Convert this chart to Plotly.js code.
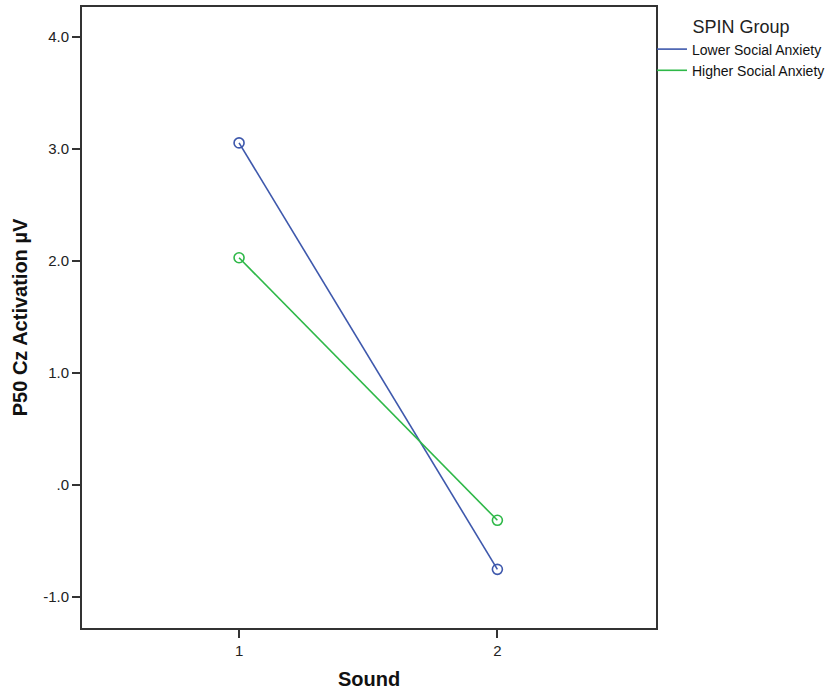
<!DOCTYPE html>
<html>
<head>
<meta charset="utf-8">
<script src="https://cdn.plot.ly/plotly-3.0.1.min.js"></script>
<style>
body{margin:0;padding:0;background:#fff;}
#chart{width:838px;height:692px;}
</style>
</head>
<body>
<div id="chart"></div>
<script>
var sound = [1, 2];
var lowerAnxiety = [3.056, -0.753];
var higherAnxiety = [2.03, -0.315];
var seriesNames = ["Lower Social Anxiety", "Higher Social Anxiety"];
var seriesColors = ["#3e58ac", "#2eb848"];
var yTickVals = [-1, 0, 1, 2, 3, 4];
var yTickText = ["-1.0", ".0", "1.0", "2.0", "3.0", "4.0"];
var xTickVals = [1, 2];
var xTickText = ["1", "2"];

var font = "Arial, 'Liberation Sans', sans-serif";
var seriesValues = [lowerAnxiety, higherAnxiety];
var traces = [];
seriesValues.forEach(function (vals, i) {
  traces.push({x: sound, y: vals, name: seriesNames[i], type: "scatter", mode: "lines",
    legendgroup: "g" + i, line: {color: seriesColors[i], width: 1.6}});
});
seriesValues.forEach(function (vals, i) {
  traces.push({x: sound, y: vals, name: seriesNames[i], type: "scatter", mode: "markers",
    legendgroup: "g" + i, showlegend: false,
    marker: {symbol: "circle-open", size: 10, color: seriesColors[i], line: {width: 1.6}}});
});
var layout = {
  width: 838, height: 692,
  margin: {l: 82, r: 182, t: 7, b: 64},
  paper_bgcolor: "#fff", plot_bgcolor: "#fff",
  font: {family: font, color: "#222", size: 12},
  showlegend: true,
  legend: {
    x: 0.993, xanchor: "left", y: 0.995, yanchor: "top",
    xref: "paper", yref: "paper",
    title: {text: "SPIN Group", side: "top center", font: {size: 18, color: "#222"}},
    font: {size: 14, color: "#111"},
    itemwidth: 30, tracegroupgap: 0,
    bgcolor: "rgba(0,0,0,0)"
  },
  xaxis: {
    range: [0.392, 2.614], tickvals: xTickVals, ticktext: xTickText,
    ticks: "outside", ticklen: 8, tickwidth: 2, tickcolor: "#333",
    showline: true, linecolor: "#333", linewidth: 2, mirror: true,
    showgrid: false, zeroline: false,
    tickfont: {size: 15, color: "#222"},
    title: {text: "<b>Sound</b>", font: {size: 20, color: "#111"}, standoff: 14}
  },
  yaxis: {
    range: [-1.277, 4.27], tickvals: yTickVals, ticktext: yTickText,
    ticks: "outside", ticklen: 8, tickwidth: 2, tickcolor: "#333",
    showline: true, linecolor: "#333", linewidth: 2, mirror: true,
    showgrid: false, zeroline: false,
    tickfont: {size: 15, color: "#222"},
    title: {text: "<b>P50 Cz Activation µV</b>", font: {size: 20, color: "#111"}, standoff: 10}
  }
};
Plotly.newPlot("chart", traces, layout, {displayModeBar: false, staticPlot: true});
</script>
</body>
</html>
